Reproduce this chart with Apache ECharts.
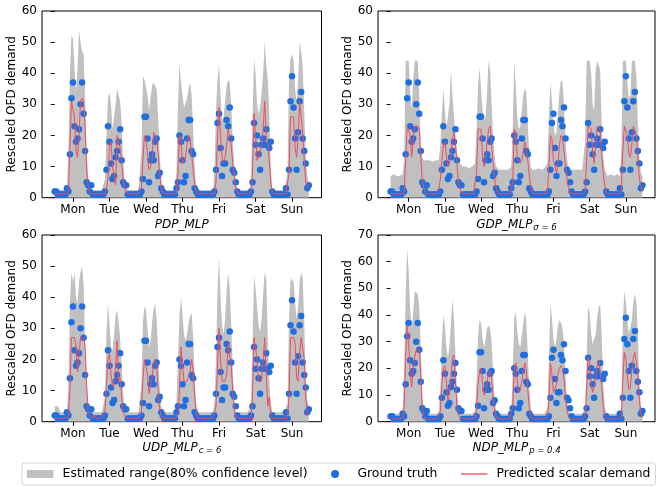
<!DOCTYPE html>
<html>
<head>
<meta charset="utf-8">
<script src="https://cdn.jsdelivr.net/npm/echarts@6/dist/echarts.min.js"></script>
<style>
html,body{margin:0;padding:0;background:#fff;}
#chart{width:657px;height:487px;}
</style>
</head>
<body>
<div id="chart"></div>
<script>
// ---- tick labels ----
const days = ['Mon','Tue','Wed','Thu','Fri','Sat','Sun'];
const dayTicks = [12,36,60,84,108,132,156];

// ---- ground truth (hourly, 7 days) ----
const groundTruth = [
 2,2,1,1,1,1,1,1,3,2,14,32,37,23,18,19,22,30,37,27,15,5,4,2,
 4,1,1,1,1,1,1,1,1,2,9,23,18,11,6,7,13,15,18,22,12,5,4,4,
 1,1,1,1,1,1,1,1,1,2,6,26,26,19,5,12,14,12,18,19,7,8,3,2,
 1,1,1,1,1,1,1,1,3,5,20,18,12,5,7,19,25,25,15,14,3,2,1,1,
 1,1,1,1,1,1,1,1,1,2,9,24,27,16,7,11,11,25,23,29,19,9,8,5,
 2,1,1,1,1,1,1,1,1,2,5,24,17,20,14,9,17,19,17,22,17,16,18,2,
 1,1,1,1,1,1,1,1,3,1,9,31,39,29,19,9,21,31,34,19,15,11,3,4
];

// ---- PDP_MLP ----
const predPDP = [
 1.2,1.2,1.2,1.2,1.2,1.2,1.2,1.2,1.2,2,16,31,31.5,26,15,13,20,31,32,31,22,9,4,1.5,
 1.2,1.2,1.2,1.2,1.2,1.2,1.2,1.2,1.2,1.2,3,6,17,18,10,7,4,20,20,16,11,6,3,1.5,
 1.2,1.2,1.2,1.2,1.2,1.2,1.2,1.2,1.2,3,12,20,19,14,9,10,12,21,20,19,14,8,3,1.5,
 1.2,1.2,1.2,1.2,1.2,1.2,1.2,1.2,2,8,20,19,11,11,13,17,20,19,14,9,4,1.5,1.2,1.2,
 1.2,1.2,1.2,1.2,1.2,1.2,1.2,1.2,1.2,1.5,5,20,29,20,13,11,13,17,22,22,17,11,7,3,
 1.5,1.2,1.2,1.2,1.2,1.2,1.2,1.2,1.2,2,8,27,20,12,13,15,17,22,31,20,18,12,5,2,
 1.2,1.2,1.2,1.2,1.2,1.2,1.2,1.2,1.2,1.5,8,26,26,26,16,13,19,31,31,21,12,5,4,3
];
const upperPDP = [
 2.5,2.5,2.5,2.5,2.5,2.5,2.5,2.5,2.5,15,40,52,51,42,34,42,54,50,47,46,32,15,7,3,
 2.5,2.5,2.5,2.5,2.5,2.5,2.5,2.5,2.5,6,20,32,34,30,22,22,30,35,33,31,24,12,5,3,
 2.5,2.5,2.5,2.5,2.5,2.5,2.5,2.5,2.5,15,39,38,38,33,28,32,36,37,36,35,26,14,6,3,
 2.5,2.5,2.5,2.5,2.5,2.5,2.5,2.5,8,30,43,37,33,29,29,32,35,37,33,22,10,4,2.5,2.5,
 2.5,2.5,2.5,2.5,2.5,2.5,2.5,2.5,2.5,8,28,38,43,33,25,26,31,36,38,37,30,19,11,5,
 3,2.5,2.5,2.5,2.5,2.5,2.5,2.5,2.5,6,25,45,40,30,27,29,34,40,50,43,38,28,10,3,
 2.5,2.5,2.5,2.5,2.5,2.5,2.5,2.5,2.5,8,38,45,46,44,35,31,38,50,47,42,28,14,7,5
];

// ---- GDP_MLP ----
const predGDP = [
 1.2,1.2,1.2,1.2,1.2,1.2,1.2,1.2,1.2,2,12,23,23,20,13,19,23,23,23,22,13,6,3,1.5,
 1.2,1.2,1.2,1.2,1.2,1.2,1.2,1.2,3,6,12,17,18,13,10,10,13,19,21,18,11,5,2.5,1.5,
 1.2,1.2,1.2,1.2,1.2,1.2,1.2,1.2,1.5,8,22,22,22,13,10,12,18,22,23,17,11,6,3,1.5,
 1.2,1.2,1.2,1.2,1.2,1.2,1.2,1.2,1.5,5,22,21,13,12,11,12,15,18,18,12,7,3,1.5,1.2,
 1.2,1.2,1.2,1.2,1.2,1.2,1.2,1.2,1.5,10,20,19,12,10,8,11,17,20,19,15,10,6,3,1.5,
 1.2,1.2,1.2,1.2,1.2,1.2,1.2,1.2,1.2,2,12,23,23,22,15,11,17,23,23,22,14,8,4,1.5,
 1.2,1.2,1.2,1.2,1.2,1.2,1.2,1.2,1.2,1.5,15,23,23,20,14,13,17,23,23,20,13,6,4,2
];
const upperGDP = [
 7,7,7.5,7,7,7.5,7,7,7.5,12,44,44,44,34,28,38,44,44,44,33,17,13,12,12,
 12,12.5,12,12,11.5,12,12,12,12,17,27,35,28,22,22,30,41,33,27,20,14,12,11,11,
 10,10.5,10,10,9.5,10,10,10,11,22,36,42,35,28,25,26,34,44,41,30,20,13,10,10,
 9,9.5,9,9,9,9.5,9,9,10,22,44,36,26,22,23,28,33,35,34,24,14,10,9,9,
 9,9,9.5,9,9,9,9.5,9,11,27,37,31,24,20,21,27,34,38,37,30,19,12,10,9,
 9,9,8.5,9,9,9,8.5,9,9,18,44,44,44,40,30,28,41,44,44,41,24,13,9,8,
 7,7,7.5,7,7,7,7.5,7,7,15,44,44,44,37,32,33,44,44,44,39,24,13,8,7
];

// ---- UDP_MLP ----
const predUDP = [
 1.1,1.1,1.1,1.1,1.1,1.1,1.1,1.1,1.1,2,10,27,27,27,24,16,22,27,27,27,24,12,3,2,
 2,1.1,2,1.1,1.1,1.1,1.1,1.1,1.1,3,12,20,22,15,11,12,18,26,13,14,8,3,2,1.1,
 1.1,1.1,1.1,1.1,1.1,1.1,1.1,1.1,1.1,3,14,20,20,15,9,12,14,19,20,18,10,4,2,1.1,
 1.1,1.1,1.1,1.1,1.1,1.1,1.1,1.1,1.1,2,10,24,18,13,13,13,13,16,20,16,8,3,1.1,1.1,
 1.1,1.1,1.1,1.1,1.1,1.1,1.1,1.1,1.1,1.2,5,18,30,20,13,13,13,15,25,25,18,10,4,1.5,
 1.1,1.1,1.1,1.1,1.1,1.1,1.1,1.1,1.1,1.2,8,27,27,20,13,13,13,20,27,27,5,8,2,1.1,
 1.1,1.1,1.1,1.1,1.1,1.1,1.1,1.1,1.1,1.2,8,27,27,27,25,14,13,22,27,27,20,8,2,2.5
];
const upperUDP = [
 5,5,5,5,3,3,3,3,3,12,38,48,45,48,40,38,45,48,50,44,26,12,6,3.5,
 3,3,3,3,3,3,3,3,3,8,28,38,32,24,23,28,34,36,32,27,18,9,4,3,
 3,3,3,3,3,3,3,3,3,12,32,37,36,30,24,26,32,36,38,33,22,11,5,3,
 3,3,3,3,3,3,3,3,6,20,34,40,34,28,26,28,32,34,35,27,14,6,3,3,
 3,3,3,3,3,3,3,3,3,6,20,42,53,40,31,28,33,42,48,43,32,17,7,3,
 3,3,3,3,3,3,3,3,3,6,25,47,43,37,31,29,33,41,48,46,28,14,6,3,
 3,3,3,3,3,3,3,3,3,6,33,46,46,45,38,33,37,45,48,46,32,14,7,5
];

// ---- NDP_MLP ----
const predNDP = [
 1,1,1,1,1,1,1,1,1.5,5,25,36,30,18,13,20,24,27,27,27,18,5,2,1.2,
 1,1,1,1,1,1,1,1,1.5,4,14,20,21,15,8,10,16,24,25,15,6,3,1.5,1,
 1,1,1,1,1,1,1,1,1.2,5,14,19,20,14,10,11,15,18,19,16,9,4,2,1,
 1,1,1,1,1,1,1,1,1.2,6,20,22,15,11,12,15,19,22,19,12,5,2,1,1,
 1,1,1,1,1,1,1,1,1.5,8,22,18,11,11,14,18,20,21,20,16,9,4,2,1,
 1,1,1,1,1,1,1,1,1,2,12,24,22,14,11,13,17,21,23,23,14,6,2,1,
 1,1,1,1,1,1,1,1,1,2,15,26,24,17,12,13,19,24,26,26,18,8,3,1.5
];
const upperNDP = [
 3,3,3,3,3,3,3,3,5,20,48,65,56,42,35,41,49,49,48,43,28,10,5,3,
 3,3,3,3,3,3,3,3,4,12,30,40,36,28,24,28,37,46,39,25,12,6,3,3,
 3,3,3,3,3,3,3,3,4,16,32,38,37,31,28,31,35,36,35,30,18,8,4,3,
 3,3,3,3,3,3,3,3,4,18,39,41,34,29,28,32,37,41,38,25,12,5,3,3,
 3,3,3,3,3,3,3,3,5,24,44,39,31,28,31,36,38,37,35,29,17,8,4,3,
 3,3,3,3,3,3,3,3,3,5,24,43,41,33,29,29,33,39,43,44,32,14,6,3,
 3,3,3,3,3,3,3,3,3,5,37,49,45,38,33,33,38,45,48,45,32,14,6,3
];

[groundTruth,predPDP,upperPDP,predGDP,upperGDP,predUDP,upperUDP,predNDP,upperNDP].forEach((a,i)=>{
  if (a.length !== 168) throw new Error('array '+i+' has length '+a.length);
});

const FONT = 'DejaVu Sans';
const BAND = '#c0c0c0', DOT = '#1f6fe0', RED = '#f24b5b';
const NAME_BAND = 'Estimated range(80% confidence level)';
const NAME_GT = 'Ground truth';
const NAME_PRED = 'Predicted scalar demand';

const panels = [
  {grid:{left:42, top:11, width:279.5, height:186.7}, ymax:60, pred:predPDP, hi:upperPDP, title:'{m|PDP_MLP}', gap:21},
  {grid:{left:378, top:11, width:277, height:186.7}, ymax:60, pred:predGDP, hi:upperGDP, title:'{m|GDP_MLP}{s|σ = 6}', gap:20},
  {grid:{left:42, top:235, width:279.5, height:186.7}, ymax:60, pred:predUDP, hi:upperUDP, title:'{m|UDP_MLP}{s|c = 6}', gap:19},
  {grid:{left:378, top:235, width:277, height:186.7}, ymax:70, pred:predNDP, hi:upperNDP, title:'{m|NDP_MLP}{s|p = 0.4}', gap:19}
];

const toXY = arr => arr.map((v,i)=>[i,v]);

const option = {
  animation:false,
  backgroundColor:'#fff',
  textStyle:{fontFamily:FONT},
  grid: panels.map(p=>Object.assign({show:true, borderColor:'#000', borderWidth:1, backgroundColor:'transparent', containLabel:false}, p.grid)),
  xAxis: panels.map((p,i)=>({
    gridIndex:i, type:'value', min:-8.35, max:175.35,
    axisLine:{show:false},
    axisTick:{show:true, length:4, inside:false, customValues:dayTicks, lineStyle:{color:'#000', width:1}},
    axisLabel:{show:true, customValues:dayTicks, formatter:v=>days[dayTicks.indexOf(v)], color:'#000', fontSize:12, fontFamily:FONT, margin:6},
    splitLine:{show:false},
    name:p.title, nameLocation:'middle', nameGap:p.gap,
    nameTextStyle:{color:'#000', rich:{
      m:{fontSize:12, fontStyle:'italic', fontFamily:FONT, color:'#000'},
      s:{fontSize:8.5, fontStyle:'italic', fontFamily:FONT, color:'#000', padding:[6,0,0,1]}
    }}
  })),
  yAxis: panels.map((p,i)=>({
    gridIndex:i, type:'value', min:0, max:p.ymax, interval:10,
    axisLine:{show:false},
    axisTick:{show:true, length:4, lineStyle:{color:'#000', width:1}},
    axisLabel:{color:'#000', fontSize:12, fontFamily:FONT, margin:5},
    splitLine:{show:false},
    name:'Rescaled OFD demand', nameLocation:'middle', nameGap:23,
    nameTextStyle:{color:'#000', fontSize:12, fontFamily:FONT}
  })),
  legend:{
    left:22, top:463, width:900, orient:'horizontal',
    itemWidth:26.4, itemHeight:8, itemGap:23.5,
    padding:[4,5,4,5],
    borderColor:'#d4d4d4', borderWidth:1, borderRadius:3,
    backgroundColor:'#fff',
    textStyle:{fontSize:12.4, fontFamily:FONT, color:'#000', padding:[0,0,0,4.2], lineHeight:14},
    data:[
      {name:NAME_BAND, icon:'rect', itemStyle:{color:BAND}},
      {name:NAME_GT, icon:'circle', itemStyle:{color:DOT}},
      {name:NAME_PRED, icon:'path://M0,0H24V1.2H0Z', itemStyle:{color:RED}}
    ]
  },
  series: []
};

panels.forEach((p,i)=>{
  option.series.push({
    type:'line', name:NAME_BAND, xAxisIndex:i, yAxisIndex:i,
    data:toXY(p.hi), symbol:'none', silent:true,
    lineStyle:{width:0, color:BAND}, itemStyle:{color:BAND},
    areaStyle:{color:BAND, opacity:1}, z:1
  });
  option.series.push({
    type:'scatter', name:NAME_GT, xAxisIndex:i, yAxisIndex:i,
    data:toXY(groundTruth), symbolSize:6.5, itemStyle:{color:DOT, opacity:1}, z:2
  });
  option.series.push({
    type:'line', name:NAME_PRED, xAxisIndex:i, yAxisIndex:i,
    data:toXY(p.pred), symbol:'none', showSymbol:false,
    lineStyle:{color:RED, width:1}, itemStyle:{color:RED}, z:3
  });
});

const chart = echarts.init(document.getElementById('chart'), null, {renderer:'canvas'});
chart.setOption(option);
</script>
</body>
</html>
